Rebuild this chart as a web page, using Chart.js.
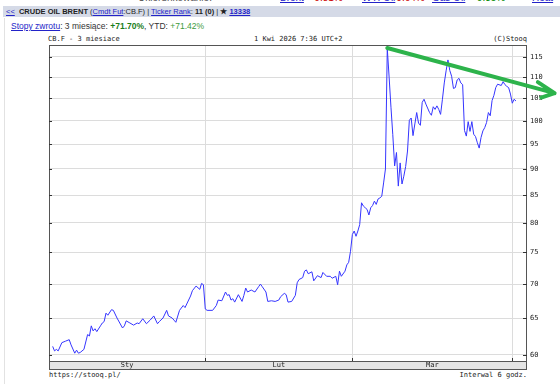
<!DOCTYPE html>
<html>
<head>
<meta charset="utf-8">
<script src="https://cdn.jsdelivr.net/npm/chart.js@4.4.1/dist/chart.umd.min.js"></script>
<style>
    html, body { margin: 0; padding: 0; background: #fff; }
    body { width: 560px; height: 384px; position: relative; overflow: hidden; font-family: Arial, "Liberation Sans", sans-serif; }
    a { color: #2323c8; text-decoration: underline; }
    #cut { position: absolute; left: 0; top: -8px; font-size: 10px; white-space: nowrap; color: #555; }
    #cut span { position: absolute; top: 0; }
    #bar { position: absolute; left: 3px; top: 6px; width: 557px; height: 11px; background: #d5dae7; font-size: 7.5px; line-height: 11px; color: #222; white-space: nowrap; }
    #bar .in { position: absolute; left: 3px; top: 0; }
    #ret { position: absolute; left: 11px; top: 21px; font-size: 8.5px; line-height: 11px; color: #333; white-space: nowrap; }
    #ret .g1 { color: #1b7d1b; font-weight: bold; }
    #ret .g2 { color: #3c9a3c; }
    #edge { position: absolute; left: 4px; top: 18px; width: 1px; height: 366px; background: #e2e2e2; }
    .mono { position: absolute; font-family: "DejaVu Sans Mono", monospace; font-size: 7px; line-height: 7px; color: #222; white-space: nowrap; }
    #chart { position: absolute; left: 0; top: 0; }
</style>
</head>
<body>
<div id="cut">
    <span style="left:138px">Ukierunkowanie:</span>
    <span style="left:280px"><a>Brent</a></span>
    <span style="left:311px;color:#c00">-0.81%</span>
    <span style="left:362px"><a>WTI Oil</a></span>
    <span style="left:393px;color:#c00">-0.64%</span>
    <span style="left:432px"><a>Gas Oil</a></span>
    <span style="left:471px;color:#080">+0.35%</span>
    <span style="left:532px"><a>Heat</a></span>
</div>
<div id="bar"><div class="in"><a>&lt;&lt;</a>&nbsp; <b>CRUDE OIL BRENT</b> (<a>Cmdt Fut</a>:CB.F) | <a>Ticker Rank</a>: <b>11 (0)</b> | <b>★</b> <a><b>13338</b></a></div></div>
<div id="ret"><a>Stopy zwrotu</a>: 3 miesiące: <span class="g1">+71.70%</span>, YTD: <span class="g2">+71.42%</span></div>
<div id="edge"></div>
<div class="mono" style="left:48px;top:36px">CB.F - 3 miesiace</div>
<div class="mono" style="left:254px;top:36px">1 Kwi 2026 7:36 UTC+2</div>
<div class="mono" style="right:33px;top:36px">(C)Stooq</div>
<div class="mono" style="left:49px;top:372px">https://stooq.pl/</div>
<div class="mono" style="right:33px;top:372px">Interwal 6 godz.</div>
<canvas id="chart" width="560" height="384"></canvas>
<script>
    // month labels and the bar (6h session) where each month starts
    const monthLabels = ['Sty', 'Lut', 'Mar'];
    const monthStarts = [0, 85, 165, 252];
    const lastBar = 260;

    // log axis ticks and range
    const yTicks = [60, 65, 70, 75, 80, 85, 90, 95, 100, 105, 110, 115];
    const yMin = 59.18;
    const yMax = 117.98;

    // CB.F closes, 6h bars
    const bars = [2, 3, 4, 5, 7, 9, 11, 12, 14, 15, 16, 17, 19, 21, 22, 23, 24, 25, 26, 28, 29, 30, 31, 32, 34, 35, 37, 40, 41, 42, 44, 46, 48, 49, 51, 53, 55, 57, 59, 60, 62, 64, 65, 67, 68, 69, 71, 73, 74, 77, 78, 80, 82, 83, 84, 85, 86, 89, 91, 92, 94, 96, 97, 98, 99, 100, 101, 103, 105, 106, 107, 108, 110, 112, 114, 115, 116, 118, 119, 121, 123, 125, 126, 128, 129, 130, 132, 134, 135, 136, 138, 139, 140, 141, 143, 144, 146, 148, 149, 151, 153, 154, 156, 157, 158, 159, 161, 162, 163, 164, 165, 166, 167, 168, 169, 170, 171, 172, 173, 174, 175, 176, 177, 178, 179, 180, 181, 182, 183, 184, 185, 186, 187, 188, 189, 190, 191, 192, 193, 194, 195, 196, 197, 198, 199, 200, 201, 202, 203, 204, 205, 207, 208, 209, 210, 211, 212, 213, 214, 215, 216, 217, 218, 219, 220, 221, 222, 223, 224, 225, 226, 227, 228, 229, 230, 231, 232, 233, 234, 235, 236, 237, 238, 239, 240, 241, 242, 243, 244, 246, 247, 248, 249, 250, 251, 252, 253, 254];
    const prices = [61.1, 60.5, 60.7, 60.5, 61.6, 61.8, 62.0, 61.3, 60.2, 60.6, 60.2, 60.3, 60.7, 62.7, 62.5, 63.9, 63.2, 63.5, 63.1, 63.9, 64.3, 64.5, 65.7, 65.4, 66.2, 66.1, 65.0, 63.6, 63.9, 64.6, 64.3, 64.0, 64.3, 64.2, 64.9, 64.2, 64.7, 65.3, 64.2, 64.5, 65.0, 66.1, 65.3, 65.0, 64.7, 64.4, 66.1, 66.8, 66.5, 68.2, 69.0, 69.7, 69.2, 70.1, 69.9, 66.3, 66.1, 66.1, 66.8, 67.6, 67.5, 68.8, 68.3, 68.4, 67.6, 67.8, 67.3, 68.4, 67.4, 68.3, 69.4, 68.8, 69.1, 68.8, 69.6, 70.0, 69.6, 68.8, 67.4, 67.5, 67.4, 67.6, 68.1, 68.6, 68.4, 67.3, 67.4, 68.3, 70.2, 70.7, 71.0, 72.0, 72.2, 71.6, 71.9, 70.5, 71.3, 71.0, 71.8, 71.2, 71.2, 70.9, 71.2, 69.9, 72.0, 71.2, 72.0, 73.0, 73.4, 75.2, 78.0, 78.6, 77.7, 78.6, 79.7, 83.6, 83.0, 82.7, 82.4, 81.4, 82.7, 83.1, 83.9, 83.3, 84.3, 84.5, 84.8, 87.3, 90.0, 117.1, 110.0, 103.0, 97.0, 90.6, 93.3, 86.7, 91.2, 87.1, 88.6, 90.5, 93.6, 100.1, 100.6, 96.8, 99.3, 101.8, 99.5, 99.0, 104.1, 104.8, 103.7, 101.8, 101.2, 103.1, 102.5, 103.3, 102.5, 101.4, 104.8, 108.6, 111.5, 114.2, 111.6, 110.2, 107.3, 107.5, 109.3, 109.7, 108.6, 108.2, 97.9, 96.7, 99.8, 97.7, 99.8, 97.1, 96.6, 95.3, 94.2, 96.4, 97.8, 98.5, 99.6, 101.8, 101.1, 104.5, 105.7, 107.5, 108.3, 108.0, 108.9, 108.2, 107.8, 107.5, 106.0, 103.9, 104.8, 104.4];

    // hand drawn trend arrow: [bar, price]
    const trendFrom = [184, 117.2];
    const trendTo = [275, 106.2];

    const monthMids = monthLabels.map((m, i) => (monthStarts[i] + monthStarts[i + 1]) / 2);
    const monoFont = { family: 'DejaVu Sans Mono', size: 7 };

    const frame = {
        id: 'frame',
        beforeDraw(chart) {
            const { ctx, chartArea: a } = chart;
            ctx.save();
            ctx.fillStyle = '#e4e4e4';
            ctx.fillRect(a.left, a.bottom, a.right - a.left, 8);
            ctx.restore();
        },
        afterDatasetsDraw(chart) {
            const { ctx, chartArea: a, scales } = chart;
            ctx.save();
            ctx.strokeStyle = '#555';
            ctx.lineWidth = 1;
            ctx.strokeRect(a.left + 0.5, a.top + 0.5, a.right - a.left - 1, a.bottom - a.top + 8);
            ctx.beginPath();
            ctx.moveTo(a.left, a.bottom + 0.5);
            ctx.lineTo(a.right, a.bottom + 0.5);
            ctx.stroke();
            ctx.strokeStyle = '#333';
            ctx.beginPath();
            yTicks.forEach(v => {
                const y = Math.round(scales.y.getPixelForValue(v)) + 0.5;
                ctx.moveTo(a.left, y);
                ctx.lineTo(a.left + 3, y);
                ctx.moveTo(a.right - 4, y);
                ctx.lineTo(a.right, y);
            });
            monthStarts.slice(1).forEach(b => {
                const x = Math.round(scales.x.getPixelForValue(b)) + 0.5;
                ctx.moveTo(x, a.bottom - 3);
                ctx.lineTo(x, a.bottom);
            });
            ctx.stroke();
            ctx.restore();
        },
        afterDraw(chart) {
            const { ctx, scales } = chart;
            const x1 = scales.x.getPixelForValue(trendFrom[0]);
            const y1 = scales.y.getPixelForValue(trendFrom[1]);
            const x2 = scales.x.getPixelForValue(trendTo[0]);
            const y2 = scales.y.getPixelForValue(trendTo[1]);
            const back = Math.atan2(y1 - y2, x1 - x2);
            ctx.save();
            ctx.strokeStyle = '#2db34b';
            ctx.lineWidth = 4;
            ctx.lineCap = 'round';
            ctx.beginPath();
            ctx.moveTo(x1, y1);
            ctx.lineTo(x2, y2);
            // arrow head, uneven like the original
            [[0.32, 20], [-0.58, 14]].forEach(([turn, len]) => {
                ctx.moveTo(x2, y2);
                ctx.lineTo(x2 + len * Math.cos(back + turn), y2 + len * Math.sin(back + turn));
            });
            ctx.stroke();
            ctx.restore();
        }
    };

    new Chart(document.getElementById('chart'), {
        type: 'line',
        data: {
            datasets: [{
                data: bars.map((b, i) => ({ x: b, y: prices[i] })),
                borderColor: '#3535ff',
                borderWidth: 1,
                pointRadius: 0,
                tension: 0
            }]
        },
        options: {
            responsive: false,
            animation: false,
            layout: { padding: { left: 49, top: 45, right: 8, bottom: 15 } },
            plugins: { legend: { display: false }, tooltip: { enabled: false } },
            scales: {
                x: {
                    type: 'linear',
                    min: 0,
                    max: lastBar,
                    afterBuildTicks: s => { s.ticks = monthStarts.map(v => ({ value: v })); },
                    ticks: { display: false },
                    grid: { color: '#dcdcdc', drawTicks: false },
                    border: { display: false },
                    afterFit: s => { s.height = 0; }
                },
                x2: {
                    type: 'linear',
                    position: 'bottom',
                    min: 0,
                    max: lastBar,
                    afterBuildTicks: s => { s.ticks = monthMids.map(v => ({ value: v })); },
                    ticks: {
                        callback: (v, i) => monthLabels[i],
                        font: monoFont,
                        color: '#222',
                        padding: 0,
                        maxRotation: 0,
                        autoSkip: false
                    },
                    grid: { display: false, drawTicks: false },
                    border: { display: false },
                    afterFit: s => { s.height = 8; }
                },
                y: {
                    type: 'logarithmic',
                    position: 'right',
                    min: yMin,
                    max: yMax,
                    afterBuildTicks: s => { s.ticks = yTicks.map(v => ({ value: v })); },
                    ticks: {
                        callback: v => String(v),
                        font: monoFont,
                        color: '#222',
                        padding: 3
                    },
                    grid: { color: '#dcdcdc', drawTicks: false },
                    border: { display: false },
                    afterFit: s => { s.width = 25; }
                }
            }
        },
        plugins: [frame]
    });
</script>
</body>
</html>
